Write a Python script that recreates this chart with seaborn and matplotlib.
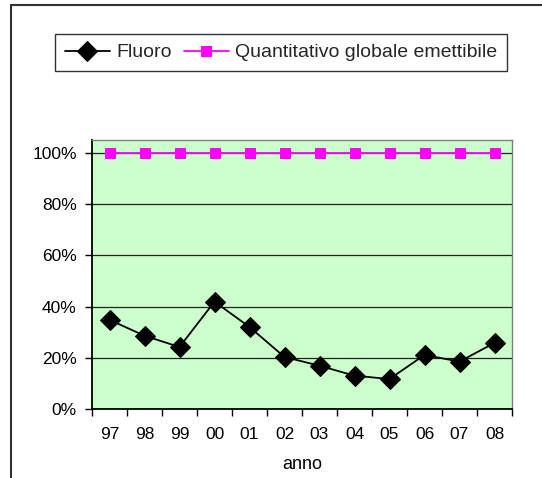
import numpy as np
import pandas as pd
import matplotlib
matplotlib.use("Agg")
import matplotlib.pyplot as plt
from matplotlib.lines import Line2D
from matplotlib.ticker import FuncFormatter
import seaborn as sns

# data
anni = ["97", "98", "99", "00", "01", "02", "03", "04", "05", "06", "07", "08"]
fluoro = [34.8, 28.6, 24.2, 41.9, 32.0, 20.3, 16.9, 13.0, 11.7, 21.1, 18.5, 25.8]
quantitativo = [100] * 12

sns.set_theme(style="white")
plt.rcParams["font.family"] = ["Liberation Sans", "DejaVu Sans"]

df = pd.DataFrame({"pos": np.arange(len(anni)), "anno": anni,
                   "Fluoro": fluoro, "Quantitativo globale emettibile": quantitativo})

fig = plt.figure(figsize=(5.42, 4.78), dpi=100)
ax = fig.add_axes([92 / 542, 1 - 409 / 478, 420 / 542, 269 / 478])
ax.set_facecolor("#CCFFCC")

sns.lineplot(data=df, x="pos", y="Fluoro", ax=ax, color="black", marker="D",
             markersize=10, markeredgecolor="black", linewidth=1.3, label="Fluoro")
sns.lineplot(data=df, x="pos", y="Quantitativo globale emettibile", ax=ax,
             color="#FF00FF", marker="s", markersize=6.5, markeredgecolor="#FF00FF",
             linewidth=1.3, label="Quantitativo globale emettibile")

ax.set_xlim(-0.5, len(anni) - 0.5)
ax.set_ylim(0, 105)
ax.set_yticks(np.arange(0, 101, 20))
ax.yaxis.set_major_formatter(FuncFormatter(lambda v, p: f"{v:.0f}%"))
ax.set_xticks(df["pos"])
ax.set_xticklabels(anni)
ax.set_xticks(np.arange(-0.5, len(anni), 1), minor=True)
ax.tick_params(axis="x", which="major", length=0, pad=13, labelsize=12.5, colors="black")
ax.tick_params(axis="x", which="minor", length=5, width=1, direction="out", color="black", bottom=True)
ax.tick_params(axis="y", length=5, width=1, direction="out", pad=6, labelsize=12.5,
               colors="black", left=True)
ax.grid(axis="y", color="#222222", linewidth=0.9)
ax.set_axisbelow(True)
ax.set_xlabel("anno", fontsize=13, labelpad=10, color="black")
ax.set_ylabel("")

for s in ["top", "right"]:
    ax.spines[s].set_color("#808080")
    ax.spines[s].set_linewidth(1)
for s in ["left", "bottom"]:
    ax.spines[s].set_color("black")
    ax.spines[s].set_linewidth(1.3)

ax.get_legend().remove()
leg = fig.legend(*ax.get_legend_handles_labels(), loc="center", bbox_to_anchor=(0.519, 0.890),
                 ncol=2, fontsize=14, frameon=True, fancybox=False, shadow=False,
                 handlelength=2.3, handletextpad=0.35, columnspacing=0.6,
                 borderpad=0.5, borderaxespad=0)
leg.get_frame().set_edgecolor("black")
leg.get_frame().set_linewidth(1)

# outer chart border (left and top only are visible)
fig.add_artist(Line2D([11 / 542, 11 / 542], [0, 1 - 5 / 478], color="#333333", linewidth=1.5))
fig.add_artist(Line2D([11 / 542, 1], [1 - 5 / 478, 1 - 5 / 478], color="#333333", linewidth=1.5))

fig.savefig("out.png", dpi=100, facecolor="white")
